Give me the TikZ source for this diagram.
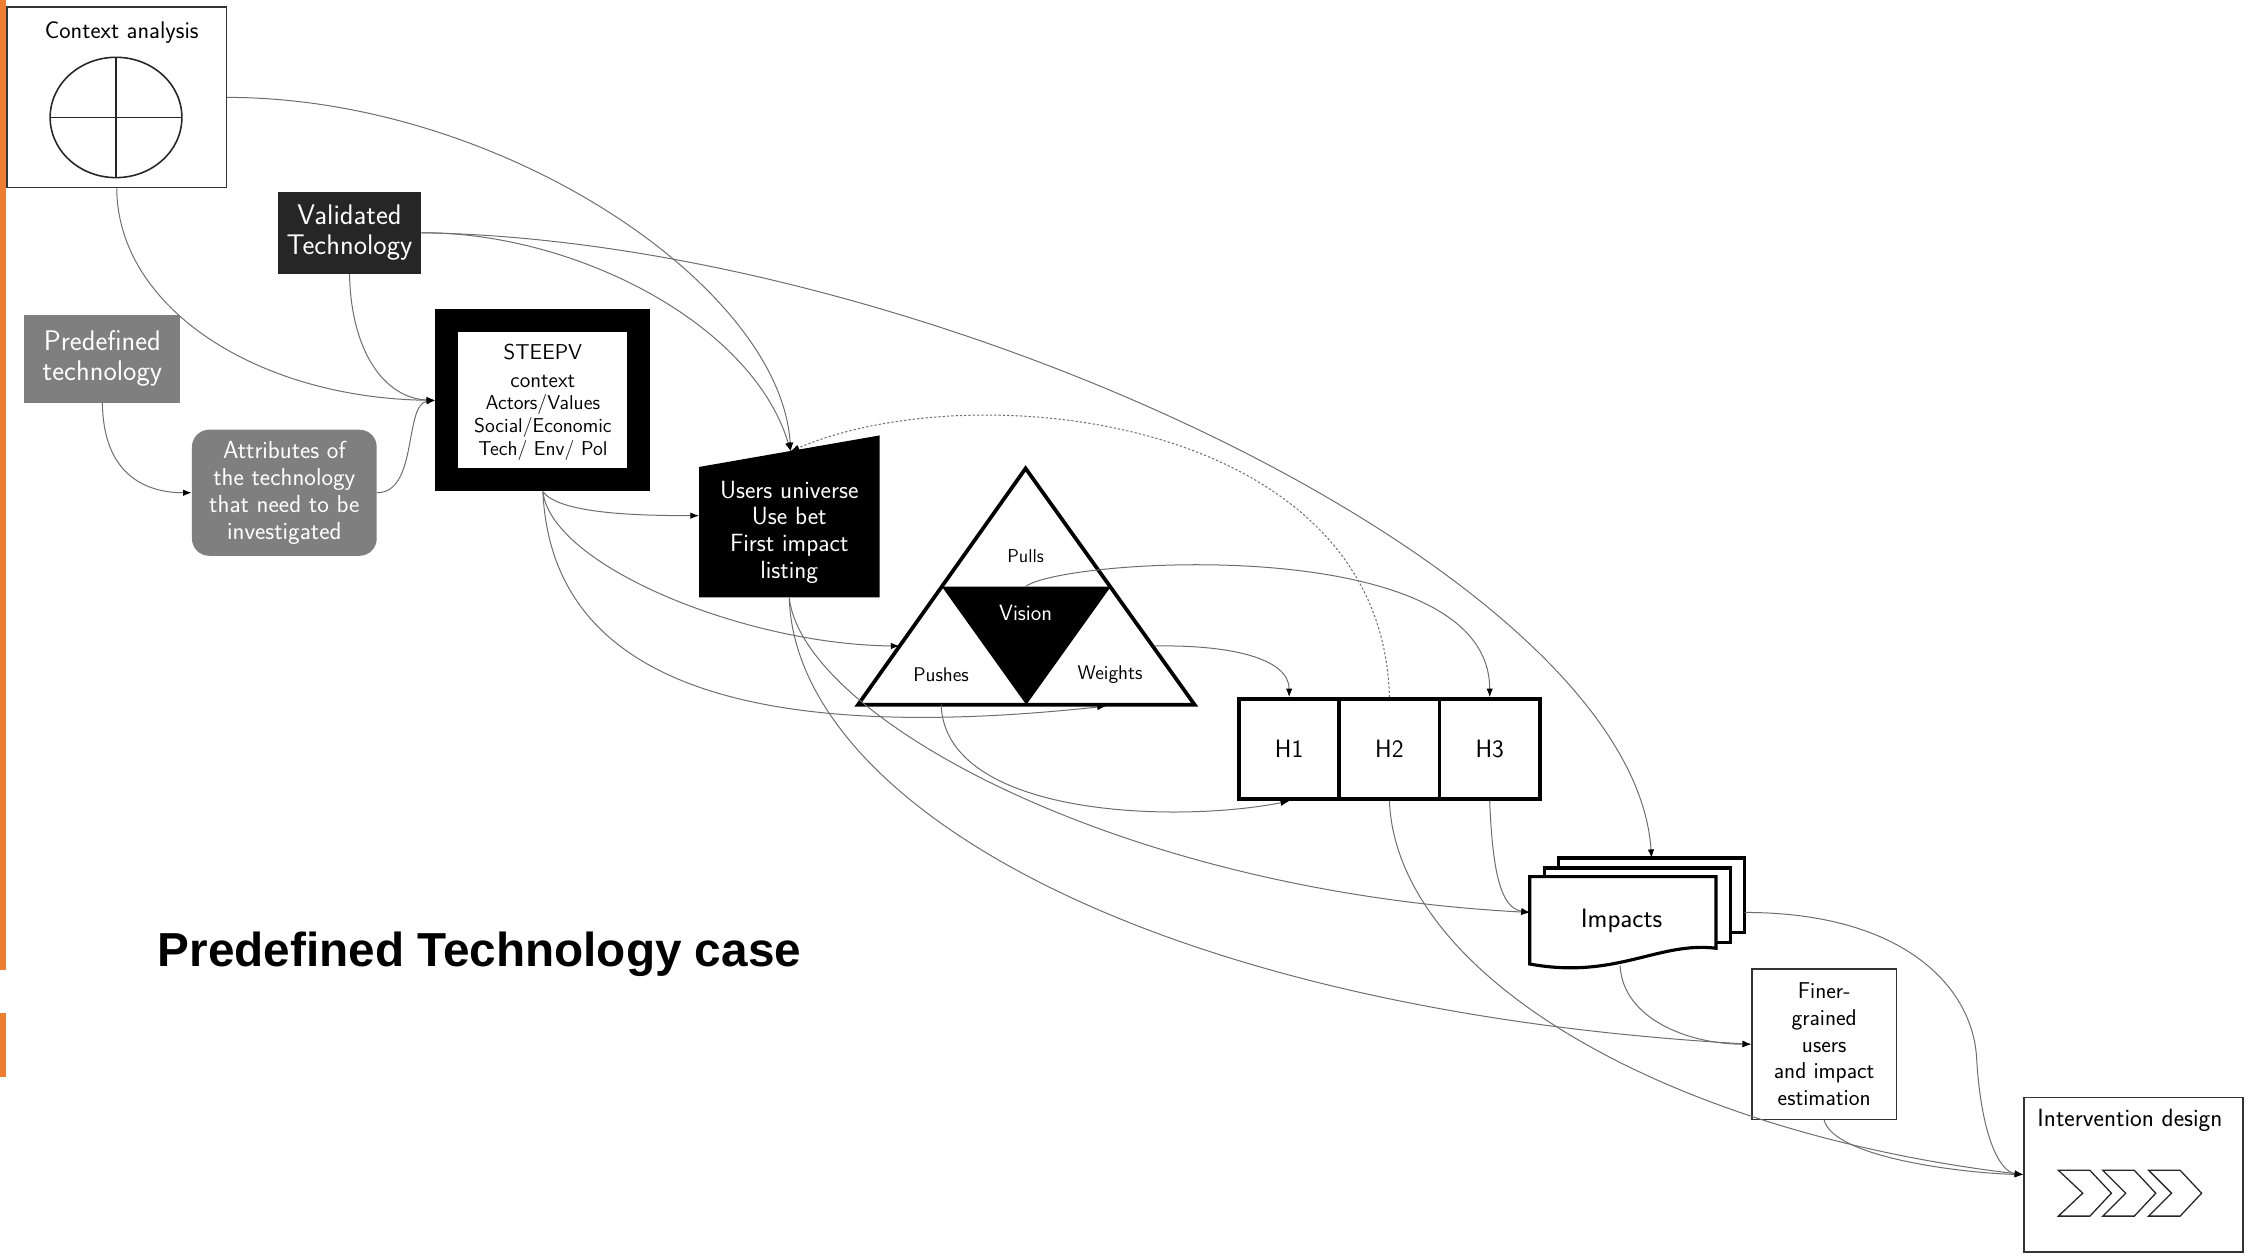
\documentclass[tikz,border=0pt]{standalone}
\usepackage{fontspec}
\newfontfamily\titlefont{Liberation Sans}
\usetikzlibrary{arrows.meta}
\definecolor{orng}{HTML}{ED7D31}
\definecolor{darkbox}{HTML}{262626}
\definecolor{greybox}{HTML}{7F7F7F}
\definecolor{conncol}{HTML}{6E6E6E}
\newcommand\setfs[2]{\fontsize{#1}{#2}\selectfont}
\tikzset{
  lbl/.style={font=\sffamily, align=center, inner sep=0pt},
  conn/.style={draw=conncol, line width=0.7pt, -{Latex[length=6pt,width=4.5pt,color=black]}},
  dotconn/.style={conn, dash pattern=on 1.6pt off 1.4pt},
  heavyline/.style={line width=2.6pt, line join=miter},
  hbox/.style={draw=black, heavyline, minimum width=70, minimum height=70, inner sep=0pt, font=\sffamily\setfs{17.5}{20}},
  thinbox/.style={draw=black!80, line width=1pt, inner sep=0pt},
  chev/.style={draw=black!85, line width=0.9pt, line join=miter}
}
\begin{document}
\begin{tikzpicture}[x=1pt,y=-1pt]
\useasboundingbox (0,0) rectangle (1568,875);
% orange margin bars
\fill[orng] (0,0) rectangle (4,677);
\fill[orng] (0,707) rectangle (4,752);

% Context analysis
\node[thinbox, minimum width=153, minimum height=126] (ctx) at (81.5,68) {};
\node[lbl, font=\sffamily\setfs{16.8}{18}] (ctxt) at (85,23) {Context analysis};
\draw[line width=1.1pt, draw=black!85] (81,82) ellipse [x radius=46, y radius=42];
\draw[line width=1.1pt, draw=black!85] (35,82) -- (127,82) (81,40) -- (81,124);

% Validated Technology
\node[lbl, fill=darkbox, text=white, minimum width=100, minimum height=57,
      font=\sffamily\setfs{19.8}{21}] (val) at (244,162.5) {Validated\\Technology};
% Predefined technology
\node[lbl, fill=greybox, text=white, minimum width=109, minimum height=61,
      font=\sffamily\setfs{19.8}{21}] (pre) at (71.5,250.5) {Predefined\\technology};
% Attributes
\node[lbl, fill=greybox, text=white, rounded corners=12pt, minimum width=129, minimum height=88,
      font=\sffamily\setfs{17.2}{18.7}] (att) at (198.5,344) {Attributes of\\the technology\\that need to be\\investigated};

% STEEPV
\node[fill=black, minimum width=150, minimum height=127, inner sep=0pt] (steep) at (379,279.5) {};
\node[fill=white, minimum width=118, minimum height=95, inner sep=0pt] (steepin) at (379,279.5) {};
\node[lbl, font=\sffamily\setfs{15}{19}] (steepa) at (379,255.5) {STEEPV\\context};
\node[lbl, font=\sffamily\setfs{14}{16}] (steepb) at (379,298.5) {Actors/Values\\Social/Economic\\Tech/ Env/ Pol};

% Users universe
\fill[black] (488,326) -- (614,304) -- (614,417) -- (488,417) -- cycle;
\node[lbl, text=white, minimum width=126, minimum height=91, font=\sffamily\setfs{17.4}{18.7}] (uu) at (551,371.5)
  {Users universe\\Use bet\\First impact\\listing};
\coordinate (uuT) at (552,315);
\coordinate (uuW) at (488,360);

% Triangle
\coordinate (tA) at (716,327);
\coordinate (tL) at (599,492);
\coordinate (tR) at (834,492);
\coordinate (mL) at (657.5,409.5);
\coordinate (mR) at (775.5,409.5);
\coordinate (mB) at (716.5,492);
\fill[white] (tA) -- (tL) -- (tR) -- cycle;
\fill[black] (mL) -- (mR) -- (mB) -- cycle;
\draw[heavyline] (tA) -- (tL) -- (tR) -- cycle;
\node[lbl, font=\sffamily\setfs{13}{15}] (pulls) at (716,388) {Pulls};
\node[lbl, text=white, font=\sffamily\setfs{15.5}{17}] (vision) at (716,428) {Vision};
\node[lbl, font=\sffamily\setfs{13.8}{15}] (pushes) at (657,471) {Pushes};
\node[lbl, font=\sffamily\setfs{13.8}{15}] (weights) at (775,471) {Weights};
\coordinate (visT) at (716,409.5);
\coordinate (pushE) at (628,451);
\coordinate (pushB) at (657,492);
\coordinate (wB) at (772,493);
\coordinate (wE) at (806,451);

% H boxes
\node[hbox] (h1) at (900,523) {H1};
\node[hbox] (h2) at (970,523) {H2};
\node[hbox] (h3) at (1040,523) {H3};

% Impacts (stacked documents)
\draw[line width=2.2pt, fill=white, line join=miter] (1088,599) rectangle (1218,651);
\draw[line width=2.2pt, fill=white, line join=miter] (1078,606) rectangle (1208,658);
\draw[line width=2.2pt, fill=white, line join=miter] (1068,612) -- (1198,612) -- (1198,662)
   .. controls (1158,657) and (1128,684) .. (1068,673) -- cycle;
\node[lbl, font=\sffamily\setfs{18.6}{20}] (imp) at (1132,643) {Impacts};
\coordinate (impT) at (1153,599);
\coordinate (impL) at (1068,637);
\coordinate (impR) at (1218,637);
\coordinate (impB) at (1131,674);

% Finer-grained
\node[thinbox, lbl, minimum width=101, minimum height=105, font=\sffamily\setfs{16}{18.7}] (fin) at (1273.5,729)
  {Finer-\\grained\\users\\and impact\\estimation};

% Intervention design
\node[thinbox, minimum width=153, minimum height=108] (int) at (1489.5,820) {};
\node[lbl, font=\sffamily\setfs{17.4}{18}] (intt) at (1487,782) {Intervention design};
\draw[chev] (1437,817) -- (1459,817) -- (1474,833) -- (1459,849) -- (1437,849) -- (1454,833) -- cycle;
\draw[chev] (1468,817) -- (1490,817) -- (1505,833) -- (1490,849) -- (1468,849) -- (1484,833) -- cycle;
\draw[chev] (1500,817) -- (1522,817) -- (1537,833) -- (1522,849) -- (1500,849) -- (1516,833) -- cycle;

% Title
\node[anchor=base west, inner sep=0pt, font=\titlefont\bfseries\setfs{33.3}{40}] (title) at (110,675) {Predefined Technology case};

% Connectors
\draw[conn] (ctx.south) .. controls (82,215) and (180,278) .. (steep.west);
\draw[conn] (val.south) .. controls (245,245) and (268,278) .. (steep.west);
\draw[conn] (att.east) .. controls (292,344) and (282,282) .. (steep.west);
\draw[conn] (pre.south) .. controls (72,330) and (100,344) .. (att.west);
\draw[conn] (ctx.east) .. controls (350,68) and (545,200) .. (uuT);
\draw[conn] (val.east) .. controls (400,162) and (525,225) .. (uuT);
\draw[conn] (val.east) .. controls (650,168) and (1140,400) .. (impT);
\draw[conn] (steep.south) .. controls (390,358) and (440,360) .. (uuW);
\draw[conn] (steep.south) .. controls (385,395) and (520,450) .. (pushE);
\draw[conn] (steep.south) .. controls (385,475) and (520,520) .. (wB);
\draw[conn] (uu.south) .. controls (560,500) and (780,622) .. (impL);
\draw[conn] (uu.south) .. controls (555,560) and (800,705) .. (fin.west);
\draw[conn] (visT) .. controls (740,390) and (1040,370) .. (h3.north);
\draw[conn] (wE) .. controls (860,450) and (900,460) .. (h1.north);
\draw[conn] (pushB) .. controls (660,570) and (820,575) .. (h1.south);
\draw[dotconn] (h2.north) .. controls (965,290) and (680,260) .. (uuT);
\draw[conn] (h2.south) .. controls (975,680) and (1160,790) .. (int.west);
\draw[conn] (h3.south) .. controls (1042,610) and (1048,634) .. (impL);
\draw[conn] (impR) .. controls (1330,637) and (1378,690) .. (1380,740) .. controls (1383,790) and (1395,818) .. (int.west);
\draw[conn] (impB) .. controls (1133,712) and (1180,729) .. (fin.west);
\draw[conn] (fin.south) .. controls (1280,808) and (1370,819) .. (int.west);
\end{tikzpicture}
\end{document}
